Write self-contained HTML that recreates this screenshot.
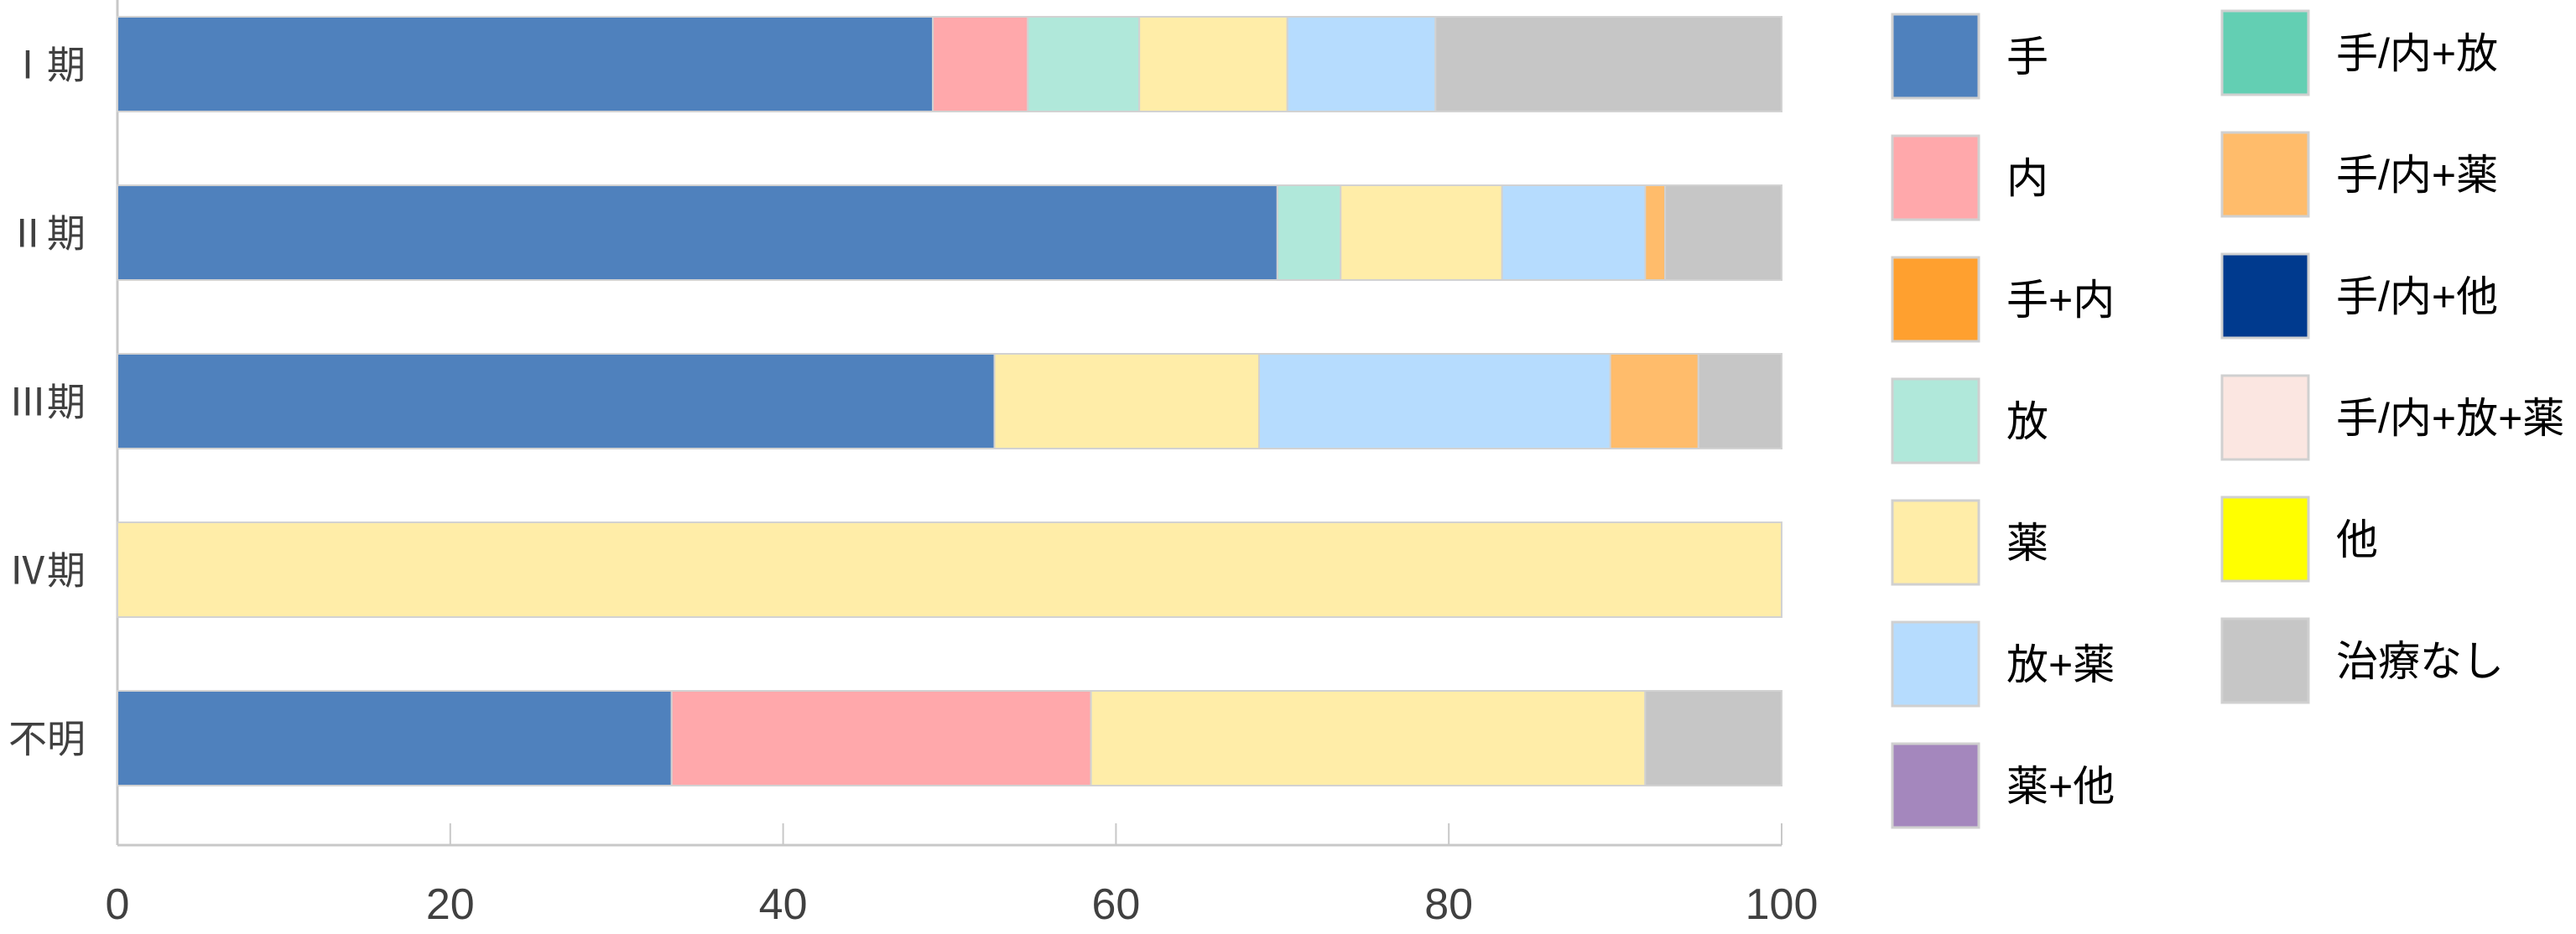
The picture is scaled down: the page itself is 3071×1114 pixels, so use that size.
<!DOCTYPE html>
<html><head><meta charset="utf-8"><style>
html,body{margin:0;padding:0;background:#fff;}
svg{display:block;font-family:"Liberation Sans","Noto Sans CJK JP",sans-serif;}
</style></head><body>
<svg id="chart" width="3071" height="1114" viewBox="0 0 3071 1114" xmlns="http://www.w3.org/2000/svg">
<g id="grid"></g>
<g id="bars"></g>
<g id="ylabels"></g>
<g id="legend"></g>
</svg>
<script>
const categories = ["Ⅰ期","Ⅱ期","Ⅲ期","Ⅳ期","不明"];
const seriesNames = ["手","内","手+内","放","薬","放+薬","薬+他","手/内+放","手/内+薬","手/内+他","手/内+放+薬","他","治療なし"];
const seriesColors = ["#4F81BD","#FFA8AB","#FFA02F","#B0E8DA","#FFEDA8","#B6DCFE","#A487BD","#63CFB3","#FFBC6B","#003A8E","#FBE6E1","#FFFF00","#C6C6C6"];
const s_te    = [49.0, 69.7, 52.7, 0, 33.3];
const s_nai   = [5.7, 0, 0, 0, 25.2];
const s_tenai = [0, 0, 0, 0, 0];
const s_hou   = [6.7, 3.8, 0, 0, 0];
const s_yaku  = [8.9, 9.7, 15.9, 100, 33.3];
const s_houyaku = [8.9, 8.6, 21.1, 0, 0];
const s_yakuta = [0, 0, 0, 0, 0];
const s_tnhou = [0, 0, 0, 0, 0];
const s_tnyaku = [0, 1.2, 5.3, 0, 0];
const s_tnta = [0, 0, 0, 0, 0];
const s_tnhy = [0, 0, 0, 0, 0];
const s_ta = [0, 0, 0, 0, 0];
const s_none = [20.8, 7.0, 5.0, 0, 8.2];
const seriesValues = [s_te,s_nai,s_tenai,s_hou,s_yaku,s_houyaku,s_yakuta,s_tnhou,s_tnyaku,s_tnta,s_tnhy,s_ta,s_none];
const xTicks = [0,20,40,60,80,100];

const NS="http://www.w3.org/2000/svg";
const X0=140, X1=2124, axisY=1008;
const xs=v=>X0+(X1-X0)*v/100;
const barTop=i=>20+i*201, barH=113;
function mk(tag,attrs,parent){const e=document.createElementNS(NS,tag);for(const k in attrs)e.setAttribute(k,attrs[k]);parent.appendChild(e);return e;}

const grid=document.getElementById('grid');
let a=mk('line',{x1:X0,y1:0,x2:X0,y2:axisY,stroke:'#c8c8c8','stroke-width':3},grid);


a=mk('line',{x1:X0,y1:axisY,x2:X1,y2:axisY,stroke:'#c8c8c8','stroke-width':3},grid);


xTicks.forEach(t=>{
  const tk=mk('line',{x1:xs(t),y1:982,x2:xs(t),y2:axisY,stroke:'#c8c8c8','stroke-width':2},grid);
  
  
  const tx=mk('text',{x:xs(t),y:1096,'text-anchor':'middle','font-size':52,fill:'#404040'},grid);
  
  
  tx.textContent=t;
});

const bars=document.getElementById('bars');
categories.forEach((c,i)=>{
  let acc=0;
  seriesValues.forEach((sv,k)=>{
    const v=sv[i]; if(!v) return;
    const r=mk('rect',{x:xs(acc),y:barTop(i),width:xs(acc+v)-xs(acc),height:barH,fill:seriesColors[k],stroke:'#d2d2d2','stroke-width':2},bars);
    
    
    acc+=v;
  });
  const l=mk('text',{x:102,y:barTop(i)+barH/2+17,'text-anchor':'end','font-size':46,fill:'#404040'},document.getElementById('ylabels'));
  
  
  l.textContent=c;
});

const leg=document.getElementById('legend');
seriesNames.forEach((n,k)=>{
  const col=k<7?0:1, row=k<7?k:k-7;
  const sx=col?2649:2256, sy=(col?13:17)+row*145;
  const r=mk('rect',{x:sx,y:sy,width:103,height:100,fill:seriesColors[k],stroke:'#d0d0d0','stroke-width':3},leg);
  
  
  const t=mk('text',{x:col?2785:2392,y:sy+68,'font-size':50,fill:'#000'},leg);
  
  
  t.textContent=n;
});
</script>
</body></html>
